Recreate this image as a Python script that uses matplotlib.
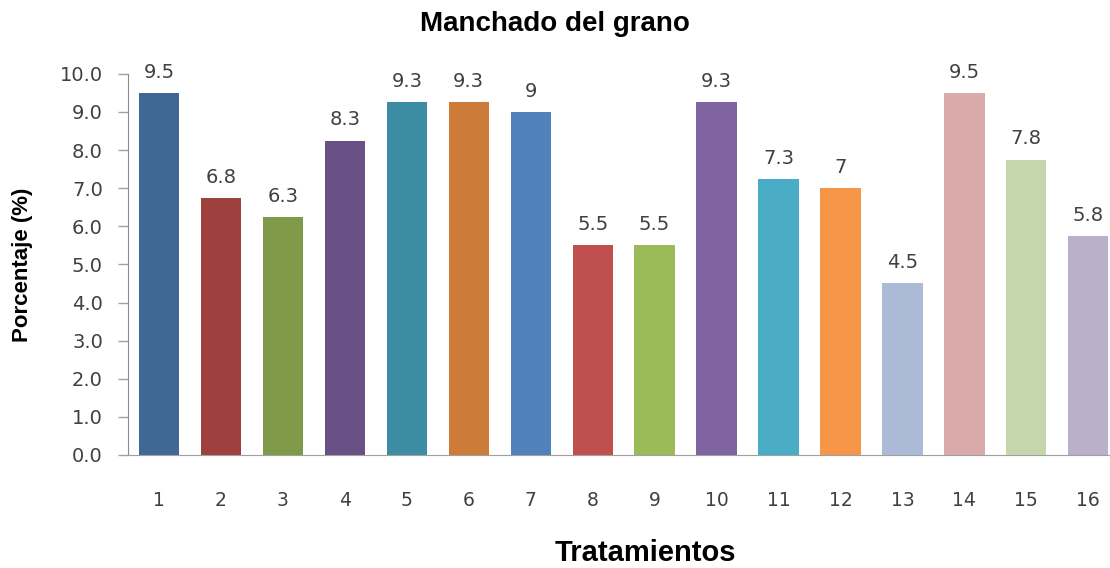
import matplotlib
matplotlib.use("Agg")
import matplotlib.pyplot as plt

# datos
tratamientos = [str(i) for i in range(1, 17)]
porcentaje = [9.5, 6.75, 6.25, 8.25, 9.25, 9.25, 9.0, 5.5, 5.5, 9.25, 7.25, 7.0, 4.5, 9.5, 7.75, 5.75]
etiquetas = ["9.5", "6.8", "6.3", "8.3", "9.3", "9.3", "9", "5.5", "5.5", "9.3", "7.3", "7", "4.5", "9.5", "7.8", "5.8"]
colores = ["#3F6897", "#9E413E", "#7F9A48", "#695185", "#3C8DA3", "#CC7B38", "#4F81BD", "#C0504D",
           "#9BBB59", "#8064A2", "#4BACC6", "#F79646", "#AABAD7", "#D9AAA9", "#C6D6AC", "#BAB0C9"]
yticks = [0, 1, 2, 3, 4, 5, 6, 7, 8, 9, 10]

plt.rcParams['font.family'] = ['DejaVu Sans']
texto = '#404040'

fig = plt.figure(figsize=(11.1, 5.68), dpi=100)
ax = fig.add_axes([0.1153, 0.199, 0.8847, 0.671])

x = list(range(1, 17))
ax.bar(x, porcentaje, width=0.65, color=colores, zorder=2)

for xi, v, lab in zip(x, porcentaje, etiquetas):
    ax.annotate(lab, (xi, v), xytext=(0, 8), textcoords='offset points',
                ha='center', va='bottom', fontsize=14, color=texto)

ax.set_xlim(0.5, 16.35)
ax.set_ylim(0, 10)
ax.set_yticks(yticks)
ax.set_yticklabels([f"{t:.1f}" for t in yticks])
ax.set_xticks(x)
ax.set_xticklabels(tratamientos)

ax.tick_params(axis='y', length=7, width=1, color='#a0a0a0', pad=11, labelsize=14, labelcolor=texto)
ax.tick_params(axis='x', length=0, pad=26, labelsize=13.5, labelcolor=texto)

for s in ['top', 'right']:
    ax.spines[s].set_visible(False)
ax.spines['left'].set_color('#8c8c8c')
ax.spines['bottom'].set_color('#a0a0a0')

fig.text(0.5, 0.958, 'Manchado del grano', ha='center', va='center',
         fontsize=20, fontweight='bold', family='Liberation Sans', color='#000000')
fig.text(0.581, 0.026, 'Tratamientos', ha='center', va='center',
         fontsize=21, fontweight='bold', family='Liberation Sans', color='#000000')
fig.text(0.02, 0.533, 'Porcentaje (%)', ha='center', va='center', rotation=90,
         fontsize=16, fontweight='bold', family='Liberation Sans', color='#000000')

fig.savefig('out.png', dpi=100)
